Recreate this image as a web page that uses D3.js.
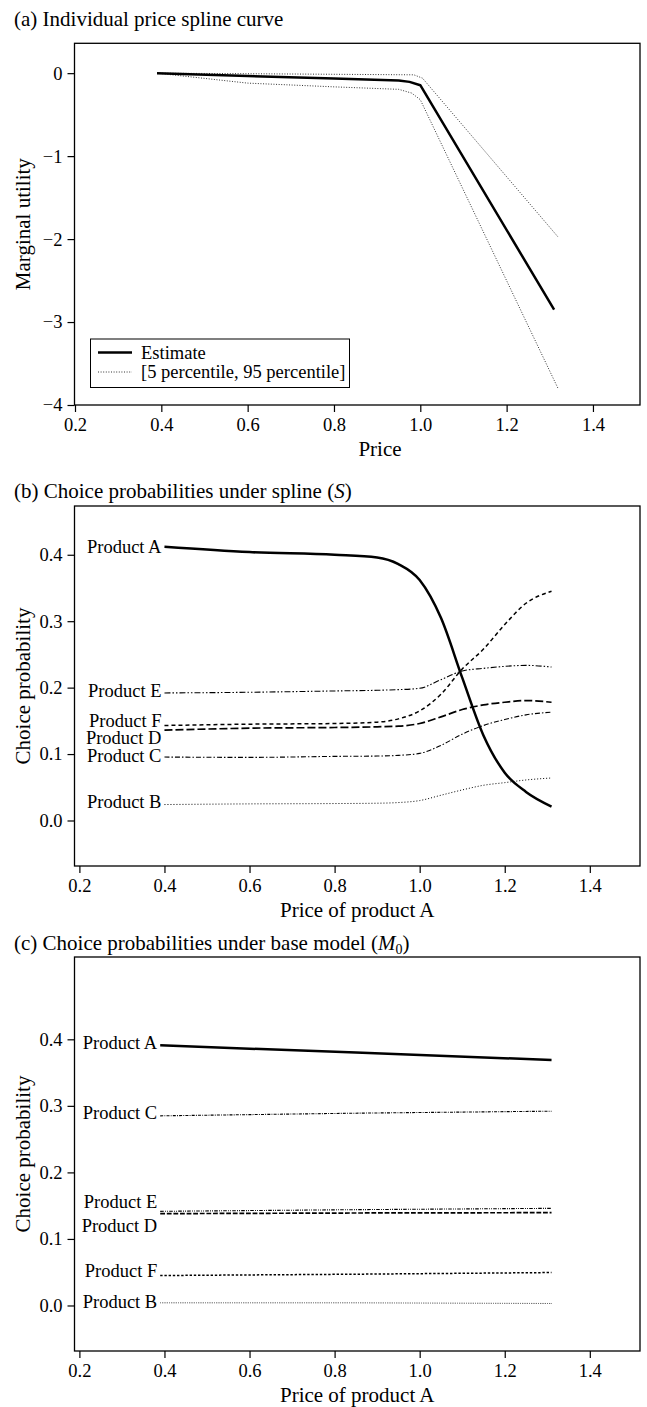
<!DOCTYPE html>
<html>
<head>
<meta charset="utf-8">
<script src="https://cdn.jsdelivr.net/npm/d3@7"></script>
<style>
  body { margin: 0; background: #fff; }
  text { font-family: 'Liberation Serif', 'Times New Roman', serif; }
</style>
</head>
<body>
<script>
/* ----------- data (a) price spline ------------ */
var estimateX = [0.39, 0.6, 0.8, 0.95, 0.975, 1.0, 1.31];
var estimateY = [0, -0.035, -0.065, -0.088, -0.105, -0.145, -2.85];
var upperX = [0.39, 0.7, 0.985, 1.005, 1.32];
var upperY = [0, -0.01, -0.02, -0.06, -1.98];
var lowerX = [0.39, 0.6, 0.8, 0.95, 0.98, 1.0, 1.32];
var lowerY = [0, -0.12, -0.165, -0.195, -0.24, -0.32, -3.81];
var legendLabels = ['Estimate', '[5 percentile, 95 percentile]'];

/* ----------- data (b) spline model ------------ */
var products = ['Product A', 'Product B', 'Product C', 'Product D', 'Product E', 'Product F'];
var priceB = [0.40, 0.6, 0.8, 0.9, 0.95, 1.0, 1.05, 1.1, 1.15, 1.2, 1.25, 1.31];
var splineA = [0.412, 0.404, 0.400, 0.396, 0.386, 0.362, 0.305, 0.215, 0.128, 0.072, 0.043, 0.021];
var splineB = [0.024, 0.025, 0.0255, 0.026, 0.027, 0.030, 0.038, 0.046, 0.053, 0.057, 0.061, 0.064];
var splineC = [0.0955, 0.095, 0.0965, 0.097, 0.098, 0.101, 0.113, 0.130, 0.143, 0.152, 0.159, 0.163];
var splineD = [0.136, 0.139, 0.140, 0.141, 0.142, 0.146, 0.156, 0.167, 0.174, 0.178, 0.1805, 0.178];
var splineE = [0.192, 0.193, 0.195, 0.196, 0.197, 0.199, 0.212, 0.225, 0.229, 0.232, 0.2335, 0.231];
var splineF = [0.143, 0.145, 0.146, 0.148, 0.153, 0.165, 0.190, 0.228, 0.258, 0.295, 0.327, 0.345];
var splineLabelY = [0.412, 0.029, 0.098, 0.1245, 0.1955, 0.1505];

/* ----------- data (c) base model ------------ */
var priceC = [0.39, 0.85, 1.31];
var baseA = [0.391, 0.380, 0.369];
var baseB = [0.004, 0.004, 0.003];
var baseC = [0.285, 0.289, 0.292];
var baseD = [0.138, 0.139, 0.1395];
var baseE = [0.1415, 0.144, 0.146];
var baseF = [0.045, 0.047, 0.0495];
var baseLabelY = [0.395, 0.006, 0.29, 0.1195, 0.1555, 0.052];

var priceTicks = [0.2, 0.4, 0.6, 0.8, 1.0, 1.2, 1.4];
var utilityTicks = [0, -1, -2, -3, -4];
var probTicks = [0.0, 0.1, 0.2, 0.3, 0.4];

var W = 647, H = 1407;
var left = 74.5, right = 640;
var FS = 18.5;   // ticks, labels, legend
var TS = 21;     // axis and panel titles

var svg = d3.select('body').append('svg')
  .attr('width', W)
  .attr('height', H);

// line styles per product
var styles = [
  { w: 2.5, dash: null },
  { w: 1, dash: '1,2' },
  { w: 1.1, dash: '5,2,1.5,2' },
  { w: 1.7, dash: '8,3' },
  { w: 1.1, dash: '6,2,1.5,2,1.5,2' },
  { w: 1.5, dash: '4,3' }
];

function frame(g, x, y, top, bottom, yTicks, yFormat, xTitle, yTitle, xTitlePos) {
  g.append('g')
    .attr('transform', 'translate(0,' + bottom + ')')
    .call(d3.axisBottom(x).tickValues(priceTicks).tickSize(7).tickPadding(6)
      .tickFormat(d3.format('.1f')))
    .call(function (a) {
      a.select('.domain').remove();
      a.selectAll('line').attr('stroke', '#000').attr('stroke-width', 1.2);
      a.selectAll('text').attr('font-size', FS).attr('font-family', 'Liberation Serif').attr('fill', '#000');
    });
  g.append('g')
    .attr('transform', 'translate(' + left + ',0)')
    .call(d3.axisLeft(y).tickValues(yTicks).tickSize(7).tickPadding(5).tickFormat(yFormat))
    .call(function (a) {
      a.select('.domain').remove();
      a.selectAll('line').attr('stroke', '#000').attr('stroke-width', 1.2);
      a.selectAll('text').attr('font-size', FS).attr('font-family', 'Liberation Serif').attr('fill', '#000');
    });
  g.append('rect')
    .attr('x', left).attr('y', top)
    .attr('width', right - left).attr('height', bottom - top)
    .attr('fill', 'none').attr('stroke', '#000').attr('stroke-width', 1.3);
  g.append('text')
    .attr('x', xTitlePos).attr('y', bottom + 44).attr('dy', '0.35em')
    .attr('text-anchor', 'middle').attr('font-size', TS)
    .text(xTitle);
  g.append('text')
    .attr('transform', 'translate(23,' + ((top + bottom) / 2) + ') rotate(-90)')
    .attr('dy', '0.35em')
    .attr('text-anchor', 'middle').attr('font-size', TS)
    .text(yTitle);
}

/* ----------- (a) ------------ */
var ga = svg.append('g');
var xa = d3.scaleLinear().domain([0.2, 1.509]).range([75, right]);
var ya = d3.scaleLinear().domain([-4, 0.36]).range([405, 43.3]);

ga.append('text').attr('x', 14).attr('y', 26).attr('font-size', TS)
  .text('(a) Individual price spline curve');
frame(ga, xa, ya, 43.3, 405, utilityTicks, d3.format('d'), 'Price', 'Marginal utility', 380);

var lineA = d3.line()
  .x(function (d) { return xa(d[0]); })
  .y(function (d) { return ya(d[1]); });

[[upperX, upperY], [lowerX, lowerY]].forEach(function (s) {
  ga.append('path')
    .attr('d', lineA(d3.zip(s[0], s[1])))
    .attr('fill', 'none').attr('stroke', '#333').attr('stroke-width', 1)
    .attr('stroke-dasharray', '1,1.6');
});
ga.append('path')
  .attr('d', lineA(d3.zip(estimateX, estimateY)))
  .attr('fill', 'none').attr('stroke', '#000').attr('stroke-width', 2.5)
  .attr('stroke-linejoin', 'round');

// legend
var lg = ga.append('g');
lg.append('rect').attr('x', 90.5).attr('y', 339).attr('width', 259).attr('height', 48.5)
  .attr('fill', '#fff').attr('stroke', '#000').attr('stroke-width', 1);
legendLabels.forEach(function (t, i) {
  var yy = 352.5 + i * 19.5;
  lg.append('line').attr('x1', 98).attr('x2', 132).attr('y1', yy).attr('y2', yy)
    .attr('stroke', i === 0 ? '#000' : '#333')
    .attr('stroke-width', i === 0 ? 2.5 : 1)
    .attr('stroke-dasharray', i === 0 ? null : '1,1.6');
  lg.append('text').attr('x', 141).attr('y', yy).attr('dy', '0.35em')
    .attr('font-size', FS).text(t);
});

/* ----------- (b) and (c) ------------ */
function probPanel(top, bottom, yDomain, price, series, labelY, title, dashScale, curve) {
  var g = svg.append('g');
  var x = d3.scaleLinear().domain([0.1885, 1.518]).range([left, right]);
  var y = d3.scaleLinear().domain(yDomain).range([bottom, top]);
  title(g);
  frame(g, x, y, top, bottom, probTicks, d3.format('.1f'), 'Price of product A', 'Choice probability',
    (left + right) / 2);

  var line = d3.line()
    .curve(curve)
    .x(function (d) { return x(d[0]); })
    .y(function (d) { return y(d[1]); });

  series.forEach(function (vals, i) {
    var st = styles[i];
    var dash = st.dash ? st.dash.split(',').map(function (v) { return +v * dashScale; }).join(',') : null;
    g.append('path')
      .attr('d', line(d3.zip(price, vals)))
      .attr('fill', 'none').attr('stroke', '#000')
      .attr('stroke-width', st.w)
      .attr('stroke-dasharray', dash);
    g.append('text')
      .attr('x', x(price[0]) - 3).attr('y', y(labelY[i])).attr('dy', '0.35em')
      .attr('text-anchor', 'end').attr('font-size', FS)
      .text(products[i]);
  });
}

probPanel(506, 866, [-0.0685, 0.4734], priceB,
  [splineA, splineB, splineC, splineD, splineE, splineF], splineLabelY,
  function (g) {
    var t = g.append('text').attr('x', 14).attr('y', 498).attr('font-size', TS);
    t.append('tspan').text('(b) Choice probabilities under spline (');
    t.append('tspan').attr('font-style', 'italic').text('S');
    t.append('tspan').text(')');
  }, 1, d3.curveMonotoneX);

probPanel(957, 1351, [-0.0684, 0.5237], priceC,
  [baseA, baseB, baseC, baseD, baseE, baseF], baseLabelY,
  function (g) {
    var t = g.append('text').attr('x', 14).attr('y', 950).attr('font-size', TS);
    t.append('tspan').text('(c) Choice probabilities under base model (');
    t.append('tspan').attr('font-style', 'italic').text('M');
    t.append('tspan').attr('font-size', 14).attr('dy', 4).text('0');
    t.append('tspan').attr('dy', -4).text(')');
  }, 0.6, d3.curveLinear);
</script>
</body>
</html>
